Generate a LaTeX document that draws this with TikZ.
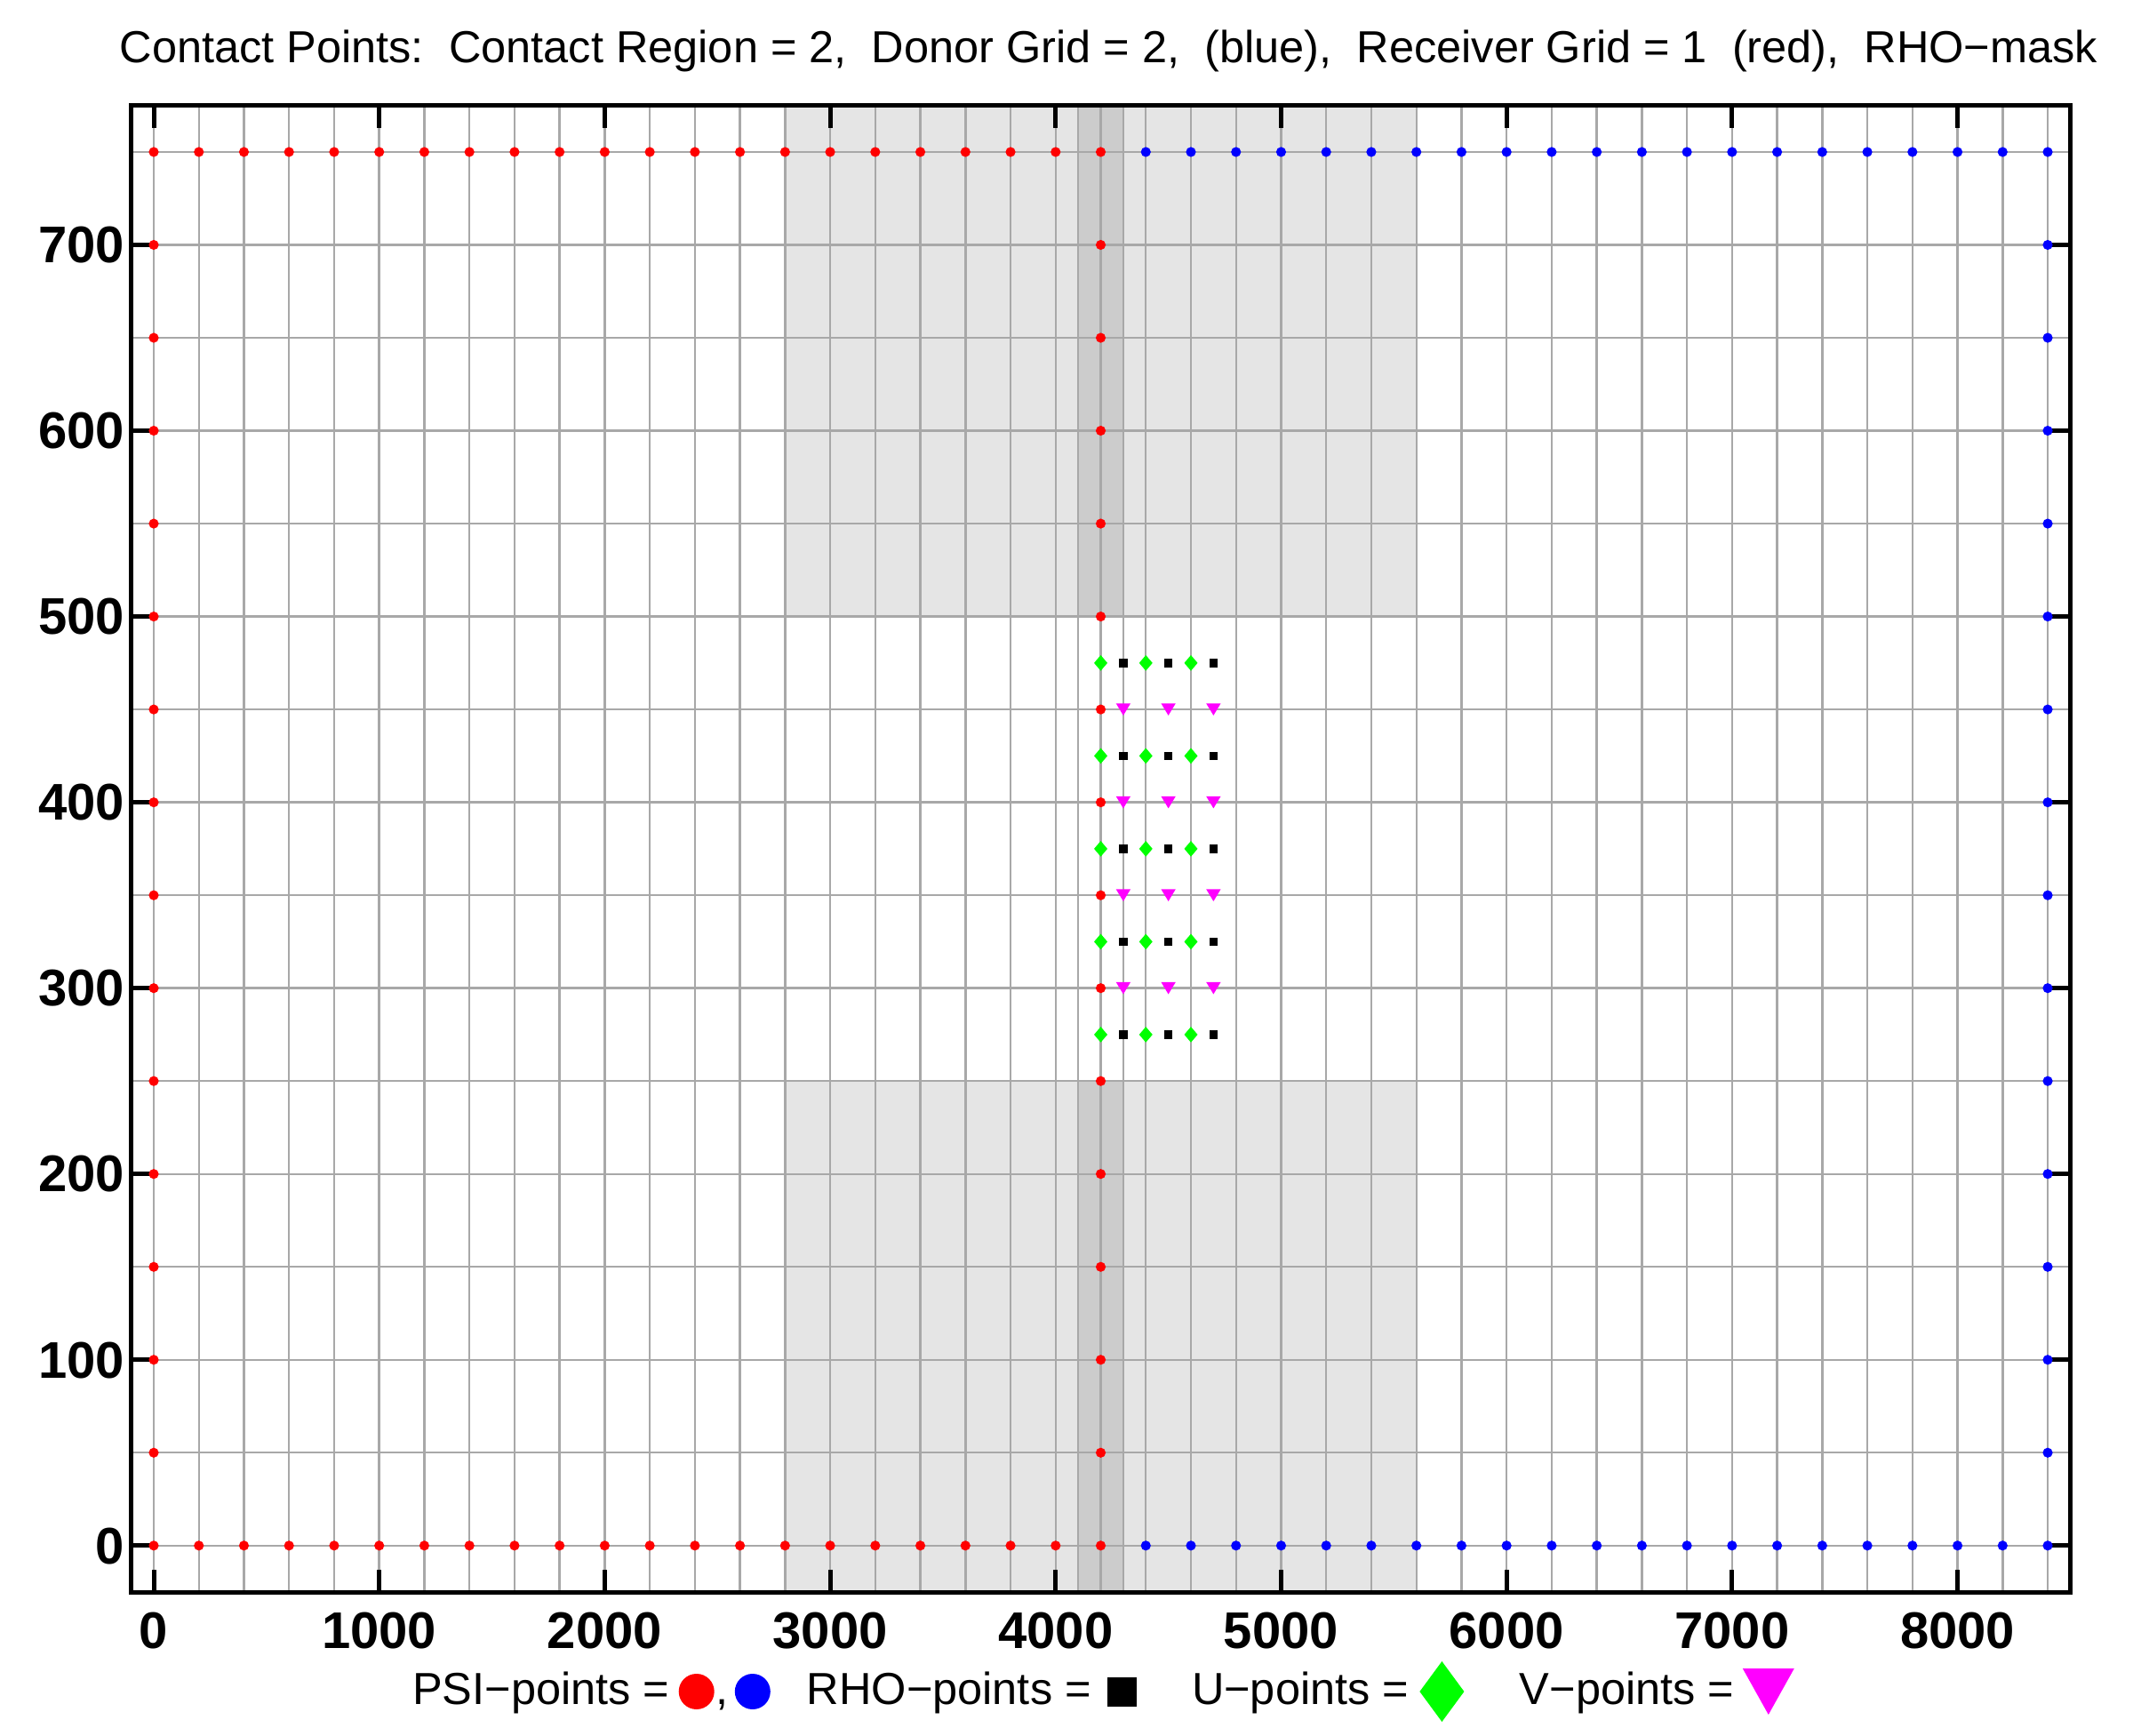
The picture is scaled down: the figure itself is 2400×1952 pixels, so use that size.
\documentclass[tikz,border=0pt]{standalone}
\usepackage{fontspec}
\setmainfont{Liberation Sans}
\definecolor{gridgray}{RGB}{168,168,168}
\definecolor{shadelight}{RGB}{229,229,229}
\definecolor{shadedark}{RGB}{204,204,204}
\definecolor{ptgreen}{RGB}{0,255,0}
\definecolor{ptmagenta}{RGB}{255,0,255}
\definecolor{ptred}{RGB}{255,0,0}
\definecolor{ptblue}{RGB}{0,0,255}
\tikzset{
  gridline/.style={draw=gridgray, line width=2.4pt},
  axisline/.style={draw=black, line width=5pt},
  tickline/.style={draw=black, line width=5pt},
  ticklabel/.style={font=\fontsize{58}{64}\selectfont\bfseries, inner sep=0pt, text depth=0pt},
  titlelabel/.style={font=\fontsize{50.5}{60}\selectfont\frenchspacing, inner sep=0pt},
  psired/.pic={\fill[ptred] (0,0) circle[radius=5.6pt];},
  psiblue/.pic={\fill[ptblue] (0,0) circle[radius=5.6pt];},
  rhosq/.pic={\fill[black] (-4.7pt,-4.7pt) rectangle (4.7pt,4.7pt);},
  udiam/.pic={\fill[ptgreen] (-7.5pt,0pt) -- (0pt,8.8pt) -- (7.5pt,0pt) -- (0pt,-8.8pt) -- cycle;},
  vtri/.pic={\fill[ptmagenta] (-8.2pt,6.8pt) -- (8.2pt,6.8pt) -- (0pt,-6.8pt) -- cycle;},
  legred/.pic={\fill[ptred] (0,0) circle[radius=20pt];},
  legblue/.pic={\fill[ptblue] (0,0) circle[radius=20pt];},
  legsq/.pic={\fill[black] (-16.5pt,-16.5pt) rectangle (16.5pt,16.5pt);},
  legdiam/.pic={\fill[ptgreen] (-25pt,0pt) -- (0pt,34pt) -- (25pt,0pt) -- (0pt,-34pt) -- cycle;},
  legtri/.pic={\fill[ptmagenta] (-29pt,26pt) -- (29pt,26pt) -- (0pt,-26pt) -- cycle;},
}
\begin{document}
\begin{tikzpicture}[x=1pt,y=1pt]
\useasboundingbox (0,0) rectangle (2400,1952);
\fill[white] (0,0) rectangle (2400,1952);
\begin{scope}[shift={(173pt,213.2pt)}, x=0.25369pt, y=2.0904pt]
  % shaded mask regions
  \fill[shadelight] (2800,500) rectangle (5600,775);
  \fill[shadedark] (4100,500) rectangle (4300,775);
  \fill[shadelight] (2800,-25) rectangle (5600,250);
  \fill[shadedark] (4100,-25) rectangle (4300,250);
  % grid
  \foreach \xx in {0,200,...,8400} \draw[gridline] (\xx,-25) -- (\xx,775);
  \foreach \xx in {4100,4300} \draw[gridline] (\xx,-25) -- (\xx,775);
  \foreach \yy in {0,50,...,750} \draw[gridline] (-100,\yy) -- (8500,\yy);
  % axes box and ticks
  \draw[axisline] (-100,-25) rectangle (8500,775);
  \foreach \xx in {0,1000,...,8000} {
    \draw[tickline] (\xx,-25) -- ++(0pt,25pt);
    \draw[tickline] (\xx,775) -- ++(0pt,-25pt);
    \node[ticklabel, anchor=base, yshift=-63pt] (xl\xx) at (\xx,-25) {\xx};
  }
  \foreach \yy in {0,100,...,700} {
    \draw[tickline] (-100,\yy) -- ++(25pt,0pt);
    \draw[tickline] (8500,\yy) -- ++(-25pt,0pt);
    \node[ticklabel, anchor=east, xshift=-7.6pt] (yl\yy) at (-100,\yy) {\yy};
  }
  % PSI points
  \foreach \yy in {0,50,...,750} {
    \pic at (0,\yy) {psired};
    \pic at (4200,\yy) {psired};
    \pic at (8400,\yy) {psiblue};
  }
  \foreach \xx in {200,400,...,4000} {
    \pic at (\xx,0) {psired};
    \pic at (\xx,750) {psired};
  }
  \foreach \xx in {4400,4600,...,8200} {
    \pic at (\xx,0) {psiblue};
    \pic at (\xx,750) {psiblue};
  }
  % U and RHO points
  \foreach \yy in {275,325,...,475} {
    \foreach \xx in {4200,4400,4600} \pic at (\xx,\yy) {udiam};
    \foreach \xx in {4300,4500,4700} \pic at (\xx,\yy) {rhosq};
  }
  % V points
  \foreach \yy in {300,350,400,450} {
    \foreach \xx in {4300,4500,4700} \pic at (\xx,\yy) {vtri};
  }
\end{scope}
% title
\node[titlelabel, anchor=base] (title) at (1247.5,1881) {Contact Points:~~Contact Region = 2,~~Donor Grid = 2,~~(blue),~~Receiver Grid = 1~~(red),~~RHO−mask};
% legend
\node[titlelabel, anchor=base west] (legpsi) at (464,35) {PSI−points =};
\node[titlelabel, anchor=base] (legcomma) at (813,35) {,};
\node[titlelabel, anchor=base west] (legrho) at (907.6,35) {RHO−points =};
\node[titlelabel, anchor=base west] (legu) at (1340.8,35) {U−points =};
\node[titlelabel, anchor=base west] (legv) at (1709.7,35) {V−points =};
\pic at (783.7,49) {legred};
\pic at (846.8,49) {legblue};
\pic at (1262.6,49) {legsq};
\pic at (1622.4,49) {legdiam};
\pic at (1989.8,49) {legtri};
\end{tikzpicture}
\end{document}
